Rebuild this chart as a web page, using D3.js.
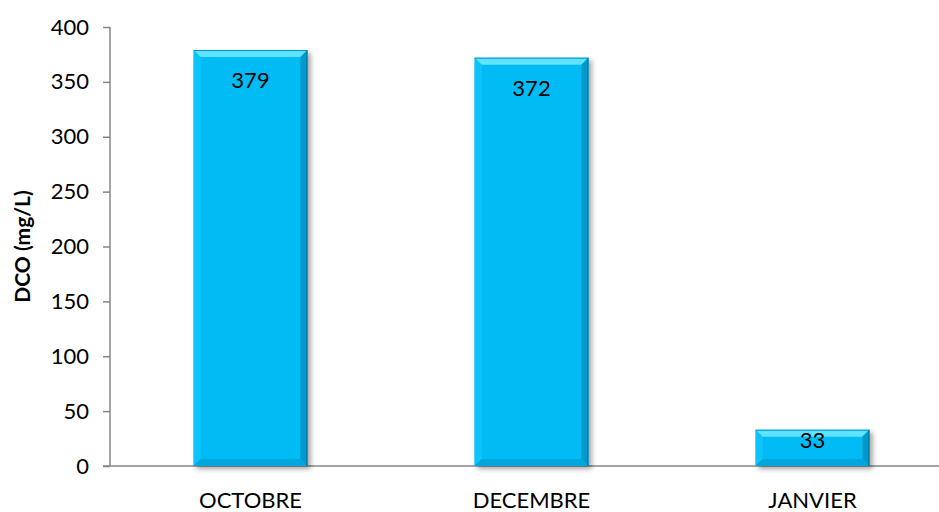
<!DOCTYPE html>
<html>
<head>
<meta charset="utf-8">
<script src="https://cdn.jsdelivr.net/npm/d3@7"></script>
<style>
  body { margin: 0; background: #fff; }
  svg { display: block; font-family: Lato, "Open Sans", sans-serif; }
  .tick text { font-size: 22px; fill: #000; font-family: Lato, "Open Sans", sans-serif; }
  .axis path, .axis line { stroke: #868686; stroke-width: 1.5; }
</style>
</head>
<body>
<svg width="939" height="512"></svg>
<script>
const months = ["OCTOBRE", "DECEMBRE", "JANVIER"];
const dco = [379, 372, 33];
const yTicks = [0, 50, 100, 150, 200, 250, 300, 350, 400];
const yLabel = "DCO (mg/L)";

const svg = d3.select("svg");
const margin = { left: 110, top: 27, bottom: 466 };
const plotRight = 953;

const x = d3
  .scaleBand()
  .domain(months)
  .range([margin.left, plotRight])
  .paddingInner(0.595)
  .paddingOuter(0.2975);
const y = d3.scaleLinear().domain([0, 400]).range([margin.bottom, margin.top]);

const defs = svg.append("defs");
const shadow = defs
  .append("filter")
  .attr("id", "shadow")
  .attr("x", "-20%")
  .attr("y", "-20%")
  .attr("width", "140%")
  .attr("height", "140%");
shadow.append("feGaussianBlur").attr("in", "SourceAlpha").attr("stdDeviation", 2.5);
shadow.append("feOffset").attr("dx", 3).attr("dy", 3).attr("result", "off");
shadow
  .append("feComponentTransfer")
  .append("feFuncA")
  .attr("type", "linear")
  .attr("slope", 0.35);
const merge = shadow.append("feMerge");
merge.append("feMergeNode");
merge.append("feMergeNode").attr("in", "SourceGraphic");

// y axis
const yAxis = d3.axisLeft(y).tickValues(yTicks).tickSize(7).tickPadding(14);
svg
  .append("g")
  .attr("class", "axis")
  .attr("transform", `translate(${margin.left},0)`)
  .call(yAxis)
  .attr("font-family", null)
  .call((g) => g.select(".domain").attr("d", `M0,${margin.top}V${margin.bottom}`));

// x axis
const xAxis = d3.axisBottom(x).tickSize(0).tickPadding(26);
svg
  .append("g")
  .attr("class", "axis")
  .attr("transform", `translate(0,${margin.bottom})`)
  .call(xAxis)
  .attr("font-family", null)
  .call((g) => g.select(".domain").attr("d", `M${margin.left - 7},0H${plotRight}`));

// bars with bevel
const bev = 7;
const bars = svg
  .append("g")
  .selectAll("g")
  .data(months.map((m, i) => ({ m, v: dco[i] })))
  .join("g")
  .attr("filter", "url(#shadow)");

bars.each(function (d) {
  const g = d3.select(this);
  const x0 = x(d.m),
    x1 = x0 + x.bandwidth(),
    y0 = y(d.v),
    y1 = y(0);
  const b = Math.min(bev, (y1 - y0) / 3);
  g.append("rect")
    .attr("x", x0)
    .attr("y", y0)
    .attr("width", x1 - x0)
    .attr("height", y1 - y0)
    .attr("fill", "#00BBF4");
  // top bevel
  g.append("polygon")
    .attr("points", [[x0, y0], [x1, y0], [x1 - b, y0 + b], [x0 + b, y0 + b]].join(" "))
    .attr("fill", "#5FE3FF");
  // left bevel
  g.append("polygon")
    .attr("points", [[x0, y0], [x0 + b, y0 + b], [x0 + b, y1 - b], [x0, y1]].join(" "))
    .attr("fill", "#10C4FA");
  // right bevel
  g.append("polygon")
    .attr("points", [[x1, y0], [x1, y1], [x1 - b, y1 - b], [x1 - b, y0 + b]].join(" "))
    .attr("fill", "#0099CC");
  // bottom bevel
  g.append("polygon")
    .attr("points", [[x0, y1], [x1, y1], [x1 - b, y1 - b], [x0 + b, y1 - b]].join(" "))
    .attr("fill", "#00A6DC");
  g.append("line")
    .attr("x1", x1 - 0.5)
    .attr("x2", x1 - 0.5)
    .attr("y1", y0)
    .attr("y2", y1)
    .attr("stroke", "#00688C")
    .attr("stroke-width", 1);
  g.append("line")
    .attr("x1", x0)
    .attr("x2", x1)
    .attr("y1", y0 + 0.5)
    .attr("y2", y0 + 0.5)
    .attr("stroke", "#0096C8")
    .attr("stroke-width", 1);
});

// value labels
svg
  .append("g")
  .selectAll("text")
  .data(months.map((m, i) => ({ m, v: dco[i] })))
  .join("text")
  .attr("x", (d) => x(d.m) + x.bandwidth() / 2)
  .attr("y", (d) => y(d.v) + Math.min(38, (y(0) - y(d.v)) / 2))
  .attr("text-anchor", "middle")
  .attr("font-size", 22)
  .attr("fill", "#000")
  .text((d) => d.v);

// y label
svg
  .append("text")
  .attr("transform", `translate(30,${(margin.top + margin.bottom) / 2}) rotate(-90)`)
  .attr("text-anchor", "middle")
  .attr("font-weight", "bold")
  .attr("font-size", 21)
  .text(yLabel);
</script>
</body>
</html>
